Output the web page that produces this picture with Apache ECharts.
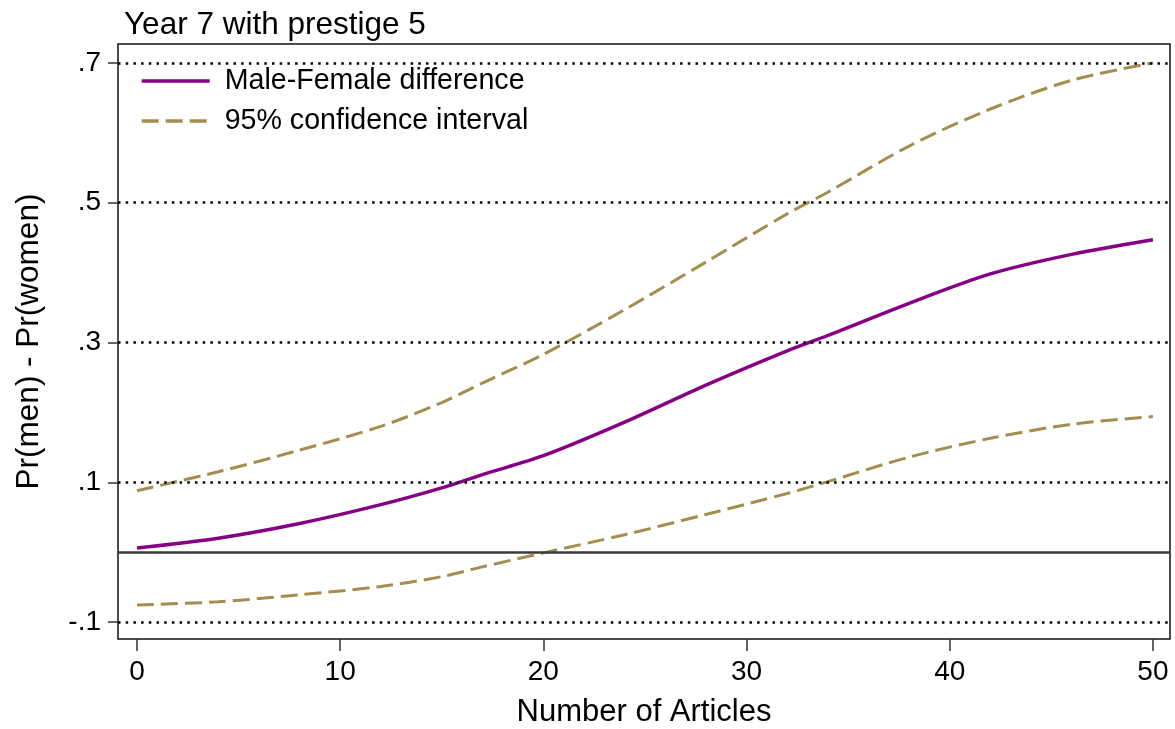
<!DOCTYPE html>
<html>
<head>
<meta charset="utf-8">
<script src="https://cdn.jsdelivr.net/npm/echarts@6/dist/echarts.min.js"></script>
<style>
  html, body { margin: 0; padding: 0; background: #fff; }
  #chart { width: 1175px; height: 729px; }
</style>
</head>
<body>
<div id="chart"></div>
<script>
// Predicted male-female difference in Pr(tenure) by number of articles
const articles   = [0, 4, 8, 12, 15, 17, 20, 24, 28, 32, 34, 38, 42, 46, 50];
const difference = [0.006, 0.020, 0.041, 0.068, 0.092, 0.111, 0.138, 0.186, 0.239, 0.288, 0.310, 0.356, 0.398, 0.426, 0.447];
const upperCI    = [0.088, 0.115, 0.146, 0.180, 0.214, 0.242, 0.283, 0.347, 0.415, 0.484, 0.515, 0.581, 0.634, 0.675, 0.700];
const lowerCI    = [-0.0755, -0.071, -0.061, -0.049, -0.035, -0.021, -0.001, 0.025, 0.054, 0.084, 0.101, 0.136, 0.163, 0.183, 0.194];

const xTicks = [0, 10, 20, 30, 40, 50];
const yTicks = [-0.1, 0.1, 0.3, 0.5, 0.7];

const FONT = '"Liberation Sans", Arial, Helvetica, sans-serif';
const PURPLE = '#850085';
const SAND = '#a38e50';

const pairs = ys => articles.map((x, i) => [x, ys[i]]);
const stataNum = v => {
  const s = String(Math.round(Math.abs(v) * 1000) / 1000).replace(/^0(?=\.)/, '');
  return (v < 0 ? '-' : '') + s;
};

const chart = echarts.init(document.getElementById('chart'), null, { renderer: 'canvas' });

chart.setOption({
  backgroundColor: '#fff',
  animation: false,
  textStyle: { fontFamily: FONT },
  title: {
    text: 'Year 7 with prestige 5',
    left: 124,
    top: 9,
    padding: 0,
    textStyle: { fontFamily: FONT, fontSize: 31.5, fontWeight: 'normal', color: '#000' }
  },
  legend: {
    orient: 'vertical',
    left: 124,
    top: 57,
    padding: [9, 20, 9, 16],
    backgroundColor: '#fff',
    itemWidth: 68,
    itemHeight: 14,
    itemGap: 10,
    itemStyle: { opacity: 0 },
    lineStyle: { width: 3.4 },
    data: ['Male-Female difference', '95% confidence interval'],
    textStyle: { fontFamily: FONT, fontSize: 28.6, color: '#000', lineHeight: 30, padding: [0, 0, 0, 10] }
  },
  grid: {
    left: 118, right: 5, top: 44, bottom: 90,
    show: true, borderColor: '#111', borderWidth: 1.5,
    containLabel: false, outerBoundsMode: 'none'
  },
  xAxis: {
    type: 'value',
    min: -0.935, max: 50.84,
    name: 'Number of Articles',
    nameLocation: 'middle',
    nameGap: 58,
    nameTextStyle: { fontFamily: FONT, fontSize: 31, color: '#000' },
    axisLine: { show: false, onZero: false },
    splitLine: { show: false },
    axisTick: { show: true, customValues: xTicks, length: 12, lineStyle: { color: '#333', width: 1.5 } },
    axisLabel: { customValues: xTicks, fontSize: 28, color: '#000', margin: 19, fontFamily: FONT }
  },
  yAxis: {
    type: 'value',
    min: -0.1242, max: 0.727,
    name: 'Pr(men) - Pr(women)',
    nameLocation: 'middle',
    nameGap: 73,
    nameTextStyle: { fontFamily: FONT, fontSize: 31.5, color: '#000' },
    axisLine: { show: false, onZero: false },
    splitLine: { show: false },
    axisTick: { show: true, customValues: yTicks, length: 10, lineStyle: { color: '#333', width: 1.5 } },
    axisLabel: { customValues: yTicks, fontSize: 28, color: '#000', margin: 17, fontFamily: FONT, formatter: stataNum }
  },
  series: [
    {
      // reference lines: dotted grid at tick values, solid line at zero
      name: 'reference',
      type: 'line',
      data: [],
      silent: true,
      z: 1,
      markLine: {
        silent: true,
        symbol: ['none', 'none'],
        label: { show: false },
        animation: false,
        data: yTicks.map(v => ({ yAxis: v, lineStyle: { color: '#000', width: 2.5, type: [2.5, 5.2] } }))
          .concat([{ yAxis: 0, lineStyle: { color: '#3c3c3c', width: 2.5, type: 'solid' } }])
      }
    },
    {
      name: 'Male-Female difference',
      type: 'line',
      data: pairs(difference),
      smooth: 0.3,
      showSymbol: false,
      symbol: 'none',
      z: 3,
      lineStyle: { color: PURPLE, width: 3.4 },
      itemStyle: { color: PURPLE }
    },
    {
      name: '95% confidence interval',
      type: 'line',
      data: pairs(upperCI),
      smooth: 0.3,
      showSymbol: false,
      symbol: 'none',
      z: 2,
      lineStyle: { color: SAND, width: 3, type: [17, 7] },
      itemStyle: { color: SAND }
    },
    {
      name: '95% confidence interval',
      type: 'line',
      data: pairs(lowerCI),
      smooth: 0.3,
      showSymbol: false,
      symbol: 'none',
      z: 2,
      lineStyle: { color: SAND, width: 3, type: [17, 7] },
      itemStyle: { color: SAND }
    }
  ]
});
</script>
</body>
</html>
